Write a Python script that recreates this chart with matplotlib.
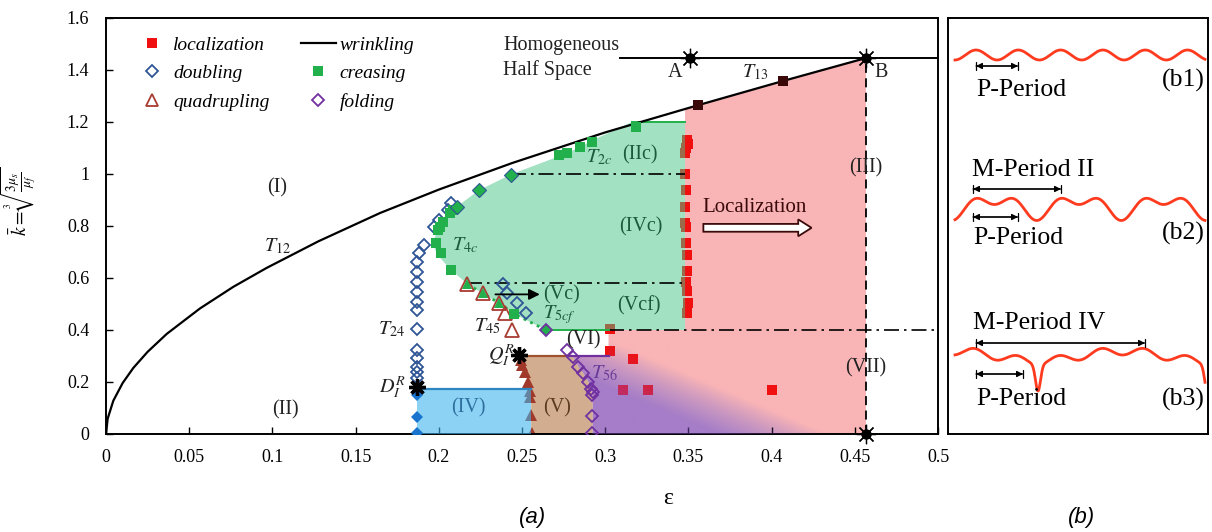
import numpy as np
import matplotlib.pyplot as plt
from matplotlib.patches import Polygon, FancyArrow
from matplotlib.lines import Line2D

plt.rcParams['font.family'] = ['Liberation Serif', 'DejaVu Serif']
plt.rcParams['mathtext.fontset'] = 'stix'

# wrinkling threshold (T12 / T13)
wr_eps = [0, 0.001, 0.0044, 0.01, 0.0164, 0.025, 0.0365, 0.0565, 0.0765, 0.0966,
          0.1276, 0.1647, 0.2, 0.244, 0.3, 0.356, 0.407, 0.4567]
wr_k = [0, 0.059, 0.128, 0.196, 0.254, 0.316, 0.385, 0.483, 0.566, 0.639,
        0.741, 0.850, 0.940, 1.042, 1.160, 1.265, 1.358, 1.446]

# localization
loc_eps = [0.349, 0.3495, 0.3485, 0.348, 0.3482, 0.3485, 0.3482, 0.348, 0.3488, 0.3485,
           0.3492, 0.349, 0.3488, 0.349, 0.3495, 0.349,
           0.3029, 0.3029, 0.3169, 0.3109, 0.3259, 0.400]
loc_k = [1.13, 1.115, 1.10, 1.08, 1.0, 0.94, 0.872, 0.81, 0.795, 0.735,
         0.69, 0.628, 0.584, 0.549, 0.503, 0.464,
         0.403, 0.32, 0.287, 0.169, 0.169, 0.169]
t13_eps = [0.356, 0.407]
t13_k = [1.265, 1.358]

# doubling
dbl_eps = [0.1867] * 12 + [0.188, 0.1914, 0.1969, 0.2, 0.2055, 0.2076,
                           0.2388, 0.2412, 0.2472, 0.2524]
dbl_k = [0.214, 0.24, 0.259, 0.291, 0.323, 0.403, 0.477, 0.509, 0.547, 0.586, 0.625, 0.66,
         0.695, 0.727, 0.797, 0.823, 0.862, 0.887,
         0.577, 0.541, 0.503, 0.467]
dbl_f_eps = [0.1867, 0.1867, 0.1867]
dbl_f_k = [0.15, 0.067, 0.003]

# quadrupling
quad_eps = [0.2172, 0.2264, 0.2364, 0.2398, 0.2438]
quad_k = [0.577, 0.541, 0.503, 0.467, 0.40]
quad_f_eps = [0.2494, 0.2500, 0.2518, 0.2538, 0.2548, 0.2550, 0.2552, 0.2558]
quad_f_k = [0.285, 0.265, 0.240, 0.201, 0.165, 0.143, 0.073, 0.003]

# creasing
cr_eps = [0.3185, 0.2918, 0.2849, 0.2768, 0.2724, 0.2087, 0.2067, 0.2027, 0.2007,
          0.1997, 0.1983, 0.2011, 0.2073, 0.2452]
cr_k = [1.182, 1.124, 1.105, 1.082, 1.073, 0.862, 0.849, 0.817, 0.797,
        0.785, 0.736, 0.695, 0.631, 0.462]
cr_d_eps = [0.2432, 0.2242, 0.2108]
cr_d_k = [0.996, 0.938, 0.874]
cr_t_eps = [0.2172, 0.2264, 0.2364]
cr_t_k = [0.577, 0.541, 0.503]

# folding
fold_eps = [0.2768, 0.2809, 0.2839, 0.2869, 0.2899, 0.2913, 0.2919, 0.2925, 0.2919, 0.2919]
fold_k = [0.323, 0.295, 0.259, 0.233, 0.201, 0.172, 0.15, 0.16, 0.069, 0.003]
t5cf = (0.2644, 0.40)

# special points
pt_A = (0.351, 1.446)
pt_B = (0.4567, 1.446)
pt_B0 = (0.4567, 0.0)
pt_D = (0.1867, 0.18)
pt_Q = (0.2484, 0.305)

# phase regions
green_eps = [0.3480, 0.3160, 0.2915, 0.2776, 0.2440, 0.2242, 0.2108, 0.2027, 0.1985,
             0.1965, 0.1990, 0.2073, 0.2172, 0.2264, 0.2364, 0.2452, 0.2644, 0.3480]
green_k = [1.200, 1.200, 1.127, 1.081, 1.000, 0.938, 0.874, 0.817, 0.775,
           0.730, 0.690, 0.631, 0.577, 0.541, 0.503, 0.462, 0.400, 0.400]
tan_eps = [0.2555, 0.2555, 0.2538, 0.2518, 0.2497, 0.2768, 0.2809, 0.2839, 0.2869,
           0.2899, 0.2913, 0.2925, 0.2925]
tan_k = [0.0, 0.175, 0.201, 0.240, 0.300, 0.300, 0.295, 0.259, 0.233,
         0.201, 0.172, 0.150, 0.0]
pink_eps = [0.348, 0.356, 0.407, 0.4567, 0.4567, 0.2925, 0.2925, 0.2899, 0.2869, 0.2839,
            0.2809, 0.2785, 0.302, 0.302, 0.348]
pink_k = [1.250, 1.265, 1.358, 1.446, 0.0, 0.0, 0.150, 0.201, 0.233, 0.259,
          0.295, 0.300, 0.300, 0.400, 0.400]
blue_eps = [0.1867, 0.2555]
blue_top = 0.175

RED = '#f01010'
BLUE = '#2f5597'
BROWN = '#a83c32'
GREEN = '#21b04b'
PURPLE = '#7030a0'
DKGREEN = '#1d5a3c'

fig = plt.figure(figsize=(12.12, 5.32), dpi=100)
ax = fig.add_axes([106 / 1212, 98 / 532, 832 / 1212, 416 / 532])

# pink / purple localization region: opaque base + translucent purple veil
region = Polygon(np.column_stack([pink_eps, pink_k]), closed=True,
                 facecolor='none', edgecolor='none', transform=ax.transData)
ax.add_patch(region)
E, K = np.meshgrid(np.linspace(0.28, 0.47, 380), np.linspace(0, 1.5, 600))
s = (E - 0.29) / 0.11 + K / 0.30
w = np.clip((1.3 - s) / 0.6, 0, 1)[..., None]
pink = np.array([249, 180, 182]) / 255
base_purple = np.array([194, 162, 200]) / 255
base = pink * (1 - w) + base_purple * w
base_img = np.dstack([base, np.ones(E.shape)])
veil = np.zeros(E.shape + (4,))
veil[..., :3] = np.array([130, 80, 200]) / 255
veil[..., 3] = 0.45 * w[..., 0]
ext = [0.28, 0.47, 0, 1.5]
im1 = ax.imshow(base_img, extent=ext, origin='lower', aspect='auto', zorder=1)
im1.set_clip_path(region)
im2 = ax.imshow(veil, extent=ext, origin='lower', aspect='auto', zorder=3)
im2.set_clip_path(region)

ax.fill(tan_eps, tan_k, color='#d2ad90', lw=0, zorder=1)

# markers that sit under the translucent fills
ax.plot(loc_eps, loc_k, ls='none', marker='s', ms=6.5, color=RED, mew=0, zorder=2)
ax.plot(quad_f_eps, quad_f_k, ls='none', marker='^', ms=8, color='#a0392a', mew=0, zorder=2)

ax.fill(green_eps, green_k, color='#47c587', alpha=0.5, lw=0, zorder=3)
ax.fill_between(blue_eps, 0, blue_top, color='#3fb4ee', alpha=0.6, lw=0, zorder=3)

# boundaries
ax.plot(wr_eps, wr_k, color='black', lw=1.6, zorder=6)
ax.plot([0.309, 0.5], [pt_A[1], pt_A[1]], color='black', lw=1.4, zorder=6)
ax.plot([pt_B[0], pt_B[0]], [0, pt_B[1]], color='black', lw=1.3, dashes=(5, 3), zorder=6)
dd = (9, 3, 1.5, 3)
ax.plot([0.2432, 0.348], [1.0, 1.0], color='black', lw=1.2, dashes=dd, zorder=4)
ax.plot([0.2172, 0.348], [0.58, 0.58], color='black', lw=1.2, dashes=dd, zorder=4)
ax.plot([0.302, 0.5], [0.40, 0.40], color='black', lw=1.2, dashes=dd, zorder=4)
ax.plot([0.316, 0.348], [1.2, 1.2], color=GREEN, lw=1.4, zorder=4)
ax.plot([t5cf[0], 0.302], [0.40, 0.40], color=GREEN, lw=1.4, zorder=4)
ax.plot(cr_t_eps + [0.2452, t5cf[0]], cr_t_k + [0.462, t5cf[1]], color=GREEN, lw=2, ls=':', zorder=4)
ax.plot([pt_Q[0], 0.2768], [0.30, 0.30], color='#a0522d', lw=1.6, zorder=4)
ax.plot([0.2785, 0.302], [0.30, 0.30], color=PURPLE, lw=1.6, zorder=4)
ax.plot(blue_eps, [blue_top, blue_top], color='#2e86c1', lw=1.6, zorder=4)

# markers on top
ax.plot(dbl_eps, dbl_k, ls='none', marker='D', ms=6, mfc='none', mec=BLUE, mew=1.3, zorder=5)
ax.plot(dbl_f_eps, dbl_f_k, ls='none', marker='D', ms=6, color='#1874cd', mew=0, zorder=5)
ax.plot(quad_eps, quad_k, ls='none', marker='^', ms=10, mfc='none', mec=BROWN, mew=1.3, zorder=5)
ax.plot(cr_eps, cr_k, ls='none', marker='s', ms=6.5, color=GREEN, mew=0, zorder=6)
ax.plot(cr_d_eps, cr_d_k, ls='none', marker='D', ms=7, mfc=GREEN, mec=BLUE, mew=0.8, zorder=6)
ax.plot(cr_t_eps, cr_t_k, ls='none', marker='^', ms=7, color=GREEN, mew=0, zorder=6)
ax.plot(fold_eps, fold_k, ls='none', marker='D', ms=6, mfc='none', mec=PURPLE, mew=1.3, zorder=5)
ax.plot(*t5cf, marker='D', ms=6.5, mfc=GREEN, mec=PURPLE, mew=1.3, zorder=6)
ax.plot(t13_eps, t13_k, ls='none', marker='s', ms=6.5, color='#3a0808', mew=0, zorder=7)

for p in (pt_A, pt_B, pt_B0):
    ax.plot(*p, marker=(8, 2, 0), ms=14, color='black', mew=0.9, zorder=8, clip_on=False)
    ax.plot(*p, marker='o', ms=6.5, color='black', zorder=8, clip_on=False)
for p in (pt_D, pt_Q):
    ax.plot(*p, marker=(8, 2, 0), ms=12, color='black', mew=2.4, zorder=8)

# arrows
ax.add_patch(FancyArrow(0.359, 0.793, 0.065, 0, width=0.03, head_width=0.065,
                        head_length=0.008, length_includes_head=True,
                        facecolor='white', edgecolor='#3a0a0a', lw=1.3, zorder=6))
ax.annotate('', xy=(0.2607, 0.537), xytext=(0.234, 0.537),
            arrowprops=dict(arrowstyle='-|>', color='black', lw=1.3, mutation_scale=16,
                            shrinkA=0, shrinkB=0), zorder=6)

# labels
fs = 14.5
def lab(x, y, t, c='#222222', size=fs, ha='center'):
    ax.text(x, y, t, color=c, fontsize=size, ha=ha, va='center', zorder=9)

lab(0.103, 0.945, '(I)')
lab(0.1076, 0.092, '(II)')
lab(0.103, 0.72, r'$T_{12}$')
lab(0.2386, 1.496, 'Homogeneous', ha='left')
lab(0.2386, 1.40, 'Half Space', ha='left')
lab(0.342, 1.392, 'A')
lab(0.466, 1.392, 'B')
lab(0.39, 1.39, r'$T_{13}$')
lab(0.4567, 1.023, '(III)')
lab(0.4567, 0.253, '(VII)')
lab(0.321, 1.073, '(IIc)', c=DKGREEN)
lab(0.2966, 1.062, r'$T_{2c}$', c=DKGREEN)
lab(0.3213, 0.797, '(IVc)', c=DKGREEN)
lab(0.3895, 0.87, 'Localization', c='#3a0a0a', size=15)
lab(0.2157, 0.727, r'$T_{4c}$', c=DKGREEN)
lab(0.2735, 0.537, '(Vc)', c=DKGREEN)
lab(0.3204, 0.493, '(Vcf)', c=DKGREEN)
lab(0.2725, 0.458, r'$T_{5cf}$', c=DKGREEN)
lab(0.2288, 0.413, r'$T_{45}$')
lab(0.2869, 0.362, '(VI)')
lab(0.2378, 0.304, r'$Q_I^R$')
lab(0.2998, 0.233, r'$T_{56}$', c='#6a3d9a')
lab(0.2178, 0.099, '(IV)', c='#2f6f9f')
lab(0.2708, 0.099, '(V)', c='#5a3a20')
lab(0.1717, 0.403, r'$T_{24}$')
lab(0.172, 0.182, r'$D_I^R$')

# legend
handles = [
    Line2D([], [], ls='none', marker='s', ms=6.5, color=RED, mew=0),
    Line2D([], [], ls='none', marker='D', ms=6, mfc='none', mec=BLUE, mew=1.3),
    Line2D([], [], ls='none', marker='^', ms=9, mfc='none', mec=BROWN, mew=1.3),
    Line2D([], [], color='black', lw=1.6),
    Line2D([], [], ls='none', marker='s', ms=6.5, color=GREEN, mew=0),
    Line2D([], [], ls='none', marker='D', ms=6, mfc='none', mec=PURPLE, mew=1.3),
]
names = ['localization', 'doubling', 'quadrupling', 'wrinkling', 'creasing', 'folding']
ax.legend(handles, names, ncol=2, loc='upper left', bbox_to_anchor=(0.034, 0.956),
          frameon=False, borderpad=0, borderaxespad=0, handlelength=1.8,
          handletextpad=0.2, columnspacing=1.6, labelspacing=0.55,
          prop=dict(family='Liberation Serif', style='italic', size=14))

ax.set_xlim(0, 0.5)
ax.set_ylim(0, 1.6)
ax.set_xticks(np.arange(0, 0.501, 0.05))
ax.set_xticklabels(['0', '0.05', '0.1', '0.15', '0.2', '0.25', '0.3', '0.35', '0.4', '0.45', '0.5'])
ax.set_yticks(np.arange(0, 1.601, 0.2))
ax.set_yticklabels(['0', '0.2', '0.4', '0.6', '0.8', '1', '1.2', '1.4', '1.6'])
ax.tick_params(direction='in', length=5, width=1, labelsize=13, top=False, right=False)
ax.tick_params(axis='x', pad=11)
ax.tick_params(axis='y', pad=12)
for sp in ax.spines.values():
    sp.set_linewidth(1.4)
ax.set_xlabel('ε', fontsize=17)
ax.xaxis.set_label_coords(0.675, -0.13)
ax.set_ylabel(r'$\bar{k}=\sqrt[3]{\frac{3\mu_s}{\mu_f}}$', fontsize=14)
ax.yaxis.set_label_coords(-0.082, 0.56)

# panel (b): surface profiles, drawn in pixel-like units of the box
axb = fig.add_axes([948 / 1212, 98 / 532, 260 / 1212, 416 / 532])
axb.set_xlim(0, 260)
axb.set_ylim(416, 0)
axb.set_xticks([])
axb.set_yticks([])
for sp in axb.spines.values():
    sp.set_linewidth(1.4)

xb = np.linspace(7, 257, 1000)
P = 42.3
wave_c = '#ff3b1f'
# b1: single period
y1 = 37 - 5 * np.cos(2 * np.pi * (xb - 28) / P)
# b2: period doubling
th = 2 * np.pi * (xb - 88.7) / P
y2 = 188 + 6.5 * np.cos(th) + 8 * np.cos(th / 2)
# b3: period quadrupling with a narrow fold
th3 = 2 * np.pi * (xb - 90) / P
d3 = ((xb - 90 + 2 * P) % (4 * P)) - 2 * P
y3 = (338 + 4 * np.cos(th3) + 5 * np.cos(2 * np.pi * d3 / (4 * P))
      + 26 * np.exp(-(d3 / 3.5) ** 2))
for yy in (y1, y2, y3):
    axb.plot(xb, yy, color=wave_c, lw=2)

def span(x0, x1, y):
    axb.annotate('', xy=(x1, y), xytext=(x0, y),
                 arrowprops=dict(arrowstyle='<|-|>', color='black', lw=0.9,
                                 mutation_scale=9, shrinkA=0, shrinkB=0))
    axb.annotate('', xy=(x1, y), xytext=(x0, y),
                 arrowprops=dict(arrowstyle='|-|, widthA=0.35, widthB=0.35', color='black',
                                 lw=0.9, mutation_scale=9, shrinkA=0, shrinkB=0))

bfs = 18.5
span(28, 70, 48)
axb.text(28, 72, 'P-Period', fontsize=bfs, va='center')
axb.text(257, 62, '(b1)', fontsize=bfs, va='center', ha='right')
axb.text(24, 152, 'M-Period II', fontsize=bfs, va='center')
span(25, 113, 171)
span(25, 70, 199)
axb.text(25, 220, 'P-Period', fontsize=bfs, va='center')
axb.text(257, 215, '(b2)', fontsize=bfs, va='center', ha='right')
axb.text(25, 305, 'M-Period IV', fontsize=bfs, va='center')
span(28, 197, 325)
span(28, 75, 356)
axb.text(28, 381, 'P-Period', fontsize=bfs, va='center')
axb.text(257, 381, '(b3)', fontsize=bfs, va='center', ha='right')

fig.text(533 / 1212, 1 - 517 / 532, '(a)', family='Liberation Sans', style='italic',
         fontsize=16, ha='center', va='center')
fig.text(1082 / 1212, 1 - 517 / 532, '(b)', family='Liberation Sans', style='italic',
         fontsize=16, ha='center', va='center')

fig.savefig('out.png', dpi=100)
